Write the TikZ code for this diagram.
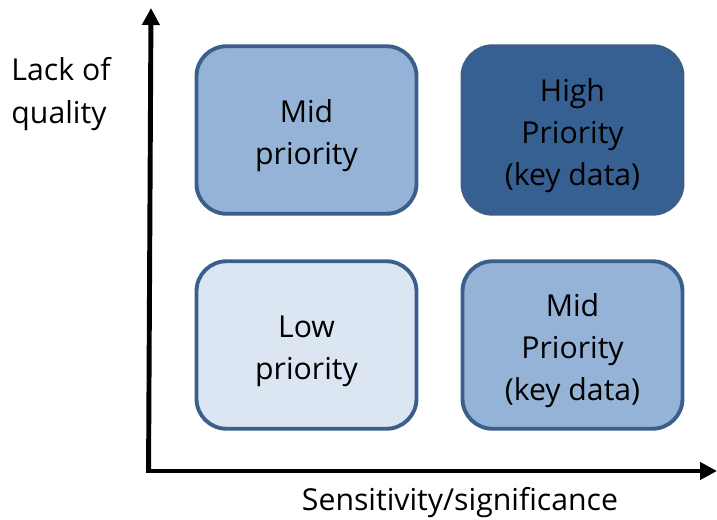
\documentclass[tikz,border=0pt]{standalone}
\usepackage{fontspec}
\setmainfont{Open Sans}
\usetikzlibrary{arrows.meta}

\definecolor{lowfill}{HTML}{DCE6F2}
\definecolor{midfill}{HTML}{95B3D7}
\definecolor{highfill}{HTML}{376092}
\definecolor{boxline}{HTML}{3A5F8B}

\newcommand{\topgap}{\rule{0pt}{19.5pt}}

\tikzset{
  quad/.style={draw=boxline, line width=2.2pt, rounded corners=0.6cm, minimum width=4.4cm, minimum height=3.35cm, align=center, font=\fontsize{17.2}{24}\selectfont},
  axis/.style={line width=2.8pt, -{Triangle[length=0.34cm,width=0.34cm]}},
  axlabel/.style={align=left, font=\fontsize{17.2}{24}\selectfont}
}

\begin{document}
\begin{tikzpicture}
\useasboundingbox (0,0) rectangle (14.34,10.38);

\node [quad, fill=midfill] (midq) at (6.13,7.78) {\topgap Mid\\priority};
\node [quad, fill=highfill] (highq) at (11.45,7.78) {\topgap High\\Priority\\(key data)};
\node [quad, fill=lowfill] (lowq) at (6.13,3.48) {\topgap Low\\priority};
\node [quad, fill=midfill] (midkey) at (11.45,3.48) {\topgap Mid\\Priority\\(key data)};

\coordinate (origin) at (3.02,0.96);
\coordinate (ytip) at (3.02,10.22);
\coordinate (xtip) at (14.34,0.96);

\draw [axis] ([xshift=-1.4pt]origin) -- (ytip);
\draw [axis] ([xshift=-2.8pt]origin) -- (xtip);

\node [axlabel] (ylab) at (1.22,8.5) {Lack of\\quality};
\node [axlabel] (xlab) at (9.2,0.32) {Sensitivity/significance};

\end{tikzpicture}
\end{document}
